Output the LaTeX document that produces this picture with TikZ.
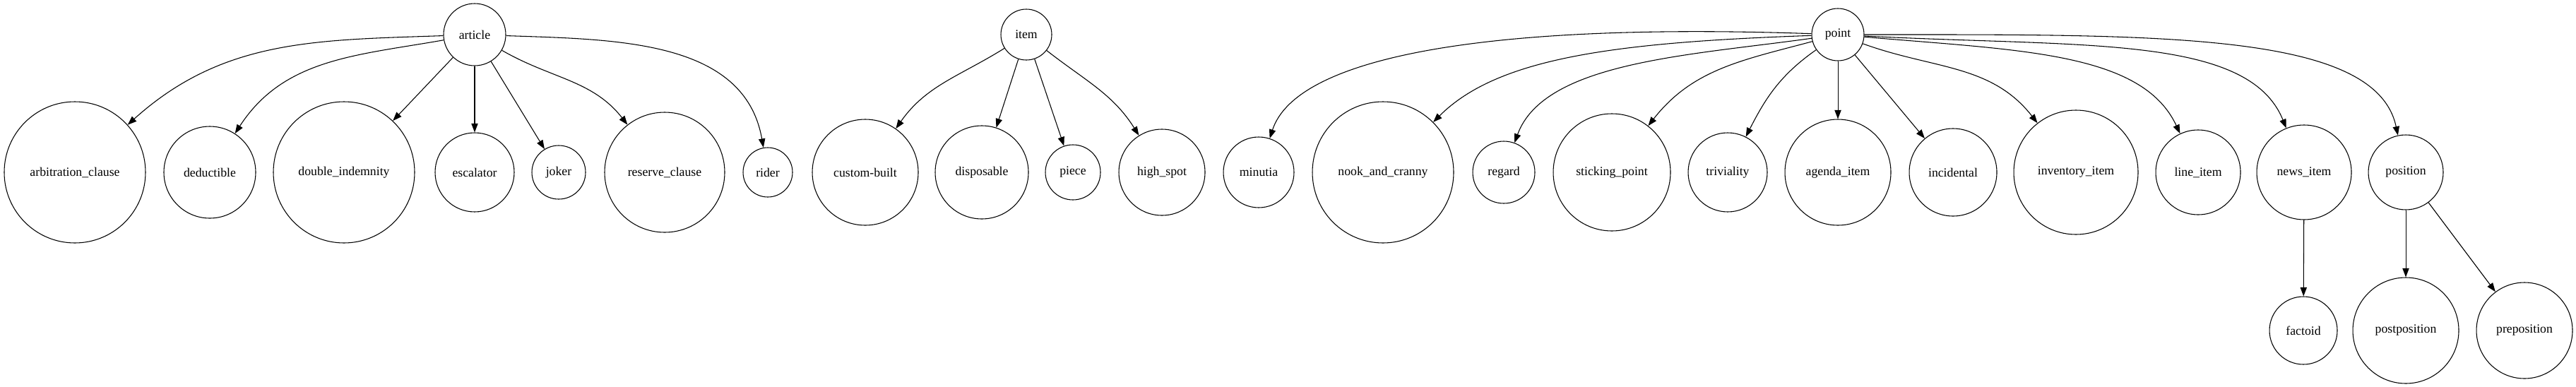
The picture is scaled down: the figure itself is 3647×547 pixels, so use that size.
\documentclass[tikz,border=0pt]{standalone}
\usepackage{fontspec}
\setmainfont{Liberation Serif}
\usetikzlibrary{arrows.meta}
\tikzset{every word/.style={circle, draw, inner sep=0pt, line width=0.8pt,
                            font=\fontsize{13.3}{16}\selectfont},
        word/.style={every word, minimum size=#1*1.5pt},
        link/.style={-{Triangle[length=9.5pt,width=7pt]}, line width=0.8pt},
        }

\begin{document}
\begin{tikzpicture}[x=0.75pt,y=0.75pt]
    \useasboundingbox (0,0) rectangle (3647,-547);

    % roots
    \node[word=44] (article) at (672,-49) {article};
    \node[word=36] (item) at (1453,-49) {item};
    \node[word=37] (point) at (2602,-49) {point};

    % children of article
    \node[word=100] (arbitrationClause) at (106,-244) {arbitration\_clause};
    \node[word=65] (deductible) at (297,-244) {deductible};
    \node[word=100] (doubleIndemnity) at (487,-244) {double\_indemnity};
    \node[word=56] (escalator) at (672,-244) {escalator};
    \node[word=38] (joker) at (791,-244) {joker};
    \node[word=85] (reserveClause) at (941,-244) {reserve\_clause};
    \node[word=35] (rider) at (1087,-244) {rider};

    % children of item
    \node[word=75] (customBuilt) at (1225,-244) {custom-built};
    \node[word=66] (disposable) at (1390,-244) {disposable};
    \node[word=39] (piece) at (1519,-244) {piece};
    \node[word=61] (highSpot) at (1645,-244) {high\_spot};

    % children of point
    \node[word=50] (minutia) at (1782,-244) {minutia};
    \node[word=100] (nookAndCranny) at (1958,-244) {nook\_and\_cranny};
    \node[word=44] (regard) at (2129,-244) {regard};
    \node[word=83] (stickingPoint) at (2282,-244) {sticking\_point};
    \node[word=56] (triviality) at (2446,-244) {triviality};
    \node[word=75] (agendaItem) at (2602,-244) {agenda\_item};
    \node[word=62] (incidental) at (2765,-244) {incidental};
    \node[word=88] (inventoryItem) at (2939,-244) {inventory\_item};
    \node[word=60] (lineItem) at (3112,-244) {line\_item};
    \node[word=67] (newsItem) at (3262,-244) {news\_item};
    \node[word=53] (position) at (3406,-244) {position};

    % third row
    \node[word=48] (factoid) at (3261,-468) {factoid};
    \node[word=75] (postposition) at (3406,-468) {postposition};
    \node[word=68] (preposition) at (3574,-468) {preposition};

    % article
    \draw[link] (article) to[out=182,in=42] (arbitrationClause);
    \draw[link] (article) to[out=190,in=57] (deductible);
    \draw[link] (article) -- (doubleIndemnity);
    \draw[link] (article) -- (escalator);
    \draw[link] (article) -- (joker);
    \draw[link] (article) to[out=-30,in=128] (reserveClause);
    \draw[link] (article) to[out=-2,in=100] (rider);

    % item
    \draw[link] (item) to[out=212,in=55] (customBuilt);
    \draw[link] (item) -- (disposable);
    \draw[link] (item) -- (piece);
    \draw[link] (item) to[out=-38,in=122] (highSpot);

    % point
    \draw[link] (point) to[out=178,in=72,out looseness=1.5,in looseness=0.4] (minutia);
    \draw[link] (point) to[out=182,in=45,out looseness=1.3,in looseness=0.6] (nookAndCranny);
    \draw[link] (point) to[out=188,in=70,in looseness=0.7] (regard);
    \draw[link] (point) to[out=195,in=52] (stickingPoint);
    \draw[link] (point) to[out=215,in=63] (triviality);
    \draw[link] (point) -- (agendaItem);
    \draw[link] (point) -- (incidental);
    \draw[link] (point) to[out=-20,in=128] (inventoryItem);
    \draw[link] (point) to[out=-5,in=115,out looseness=1.2,in looseness=0.7] (lineItem);
    \draw[link] (point) to[out=-3,in=112,out looseness=1.3,in looseness=0.6] (newsItem);
    \draw[link] (point) to[out=0,in=102,out looseness=1.4,in looseness=0.5] (position);

    % third row
    \draw[link] (newsItem) -- (factoid);
    \draw[link] (position) -- (postposition);
    \draw[link] (position) -- (preposition);

\end{tikzpicture}
\end{document}
